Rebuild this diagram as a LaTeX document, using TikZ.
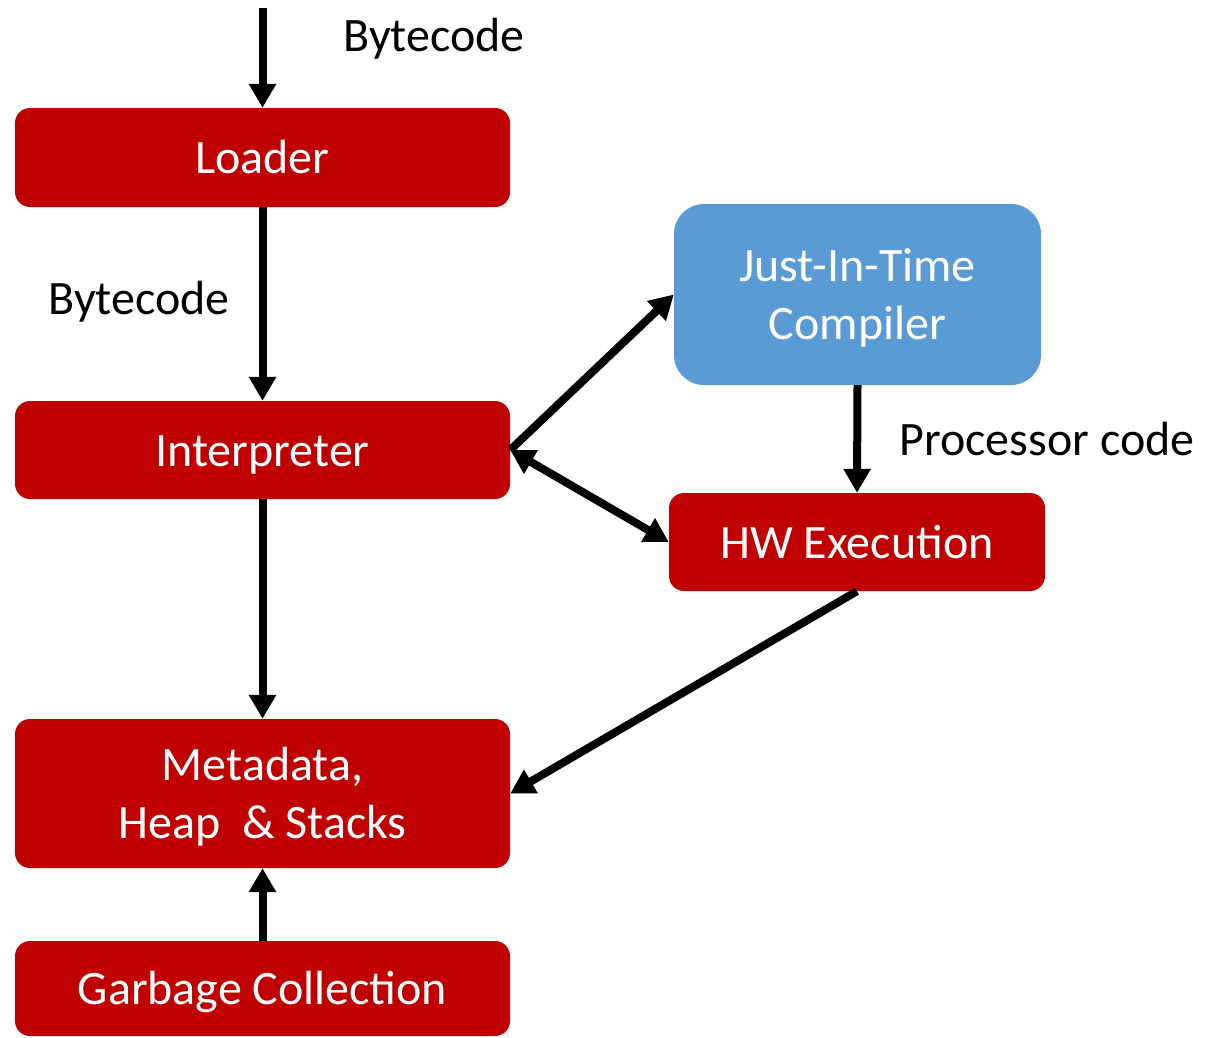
\documentclass[tikz,border=0pt]{standalone}
\usepackage{fontspec}
\setmainfont{Carlito}
\usetikzlibrary{arrows.meta}
\definecolor{boxred}{HTML}{C00000}
\definecolor{boxblue}{HTML}{5B9BD5}
\newcommand{\bx}[1]{\raisebox{0pt}[0.67em][0pt]{#1}}
\begin{document}
\begin{tikzpicture}[x=1pt,y=-1pt,
  font=\fontsize{48}{58}\selectfont,
  redbox/.style={fill=boxred,text=white,rounded corners=15pt,inner sep=0pt,align=center},
  bluebox/.style={fill=boxblue,text=white,rounded corners=30pt,inner sep=0pt,align=center},
  conn/.style={line width=8pt,-{Triangle[width=26pt,length=24pt]}},
  conn2/.style={line width=8pt,{Triangle[width=26pt,length=24pt]}-{Triangle[width=26pt,length=24pt]}},
  lbl/.style={text=black,inner sep=0pt}]
\useasboundingbox (0,0) rectangle (1209,1037);
\node[redbox,minimum width=495pt,minimum height=99pt] (loader) at (262.5,157.5) {\bx{Loader}};
\node[redbox,minimum width=495pt,minimum height=98pt] (interp) at (262.5,450) {\bx{Interpreter}};
\node[redbox,minimum width=495pt,minimum height=149pt] (meta) at (262.5,793.5) {\bx{Metadata,}\\\bx{Heap\ \ \& Stacks}};
\node[redbox,minimum width=495pt,minimum height=95pt] (gc) at (262.5,988.5) {\bx{Garbage Collection}};
\node[bluebox,minimum width=367pt,minimum height=181pt] (jit) at (857.5,294.5) {\bx{Just-In-Time}\\\bx{Compiler}};
\node[redbox,minimum width=376pt,minimum height=98pt] (hw) at (857,542) {\bx{HW Execution}};
\coordinate (top) at (262.5,8);
\node[lbl] (b1) at (434,35) {\bx{Bytecode}};
\node[lbl] (b2) at (139,298) {\bx{Bytecode}};
\node[lbl] (pc) at (1047,439) {\bx{Processor code}};
\draw[conn] (top) -- (loader.north);
\draw[conn] (loader.south) -- (interp.north);
\draw[conn] (interp.south) -- (meta.north);
\draw[conn] (gc.north) -- (meta.south);
\draw[conn] (interp.east) -- (jit.west);
\draw[conn2] (interp.east) -- (hw.west);
\draw[conn] (jit.south) -- (hw.north);
\draw[conn] (hw.south) -- (meta.east);
\end{tikzpicture}
\end{document}
